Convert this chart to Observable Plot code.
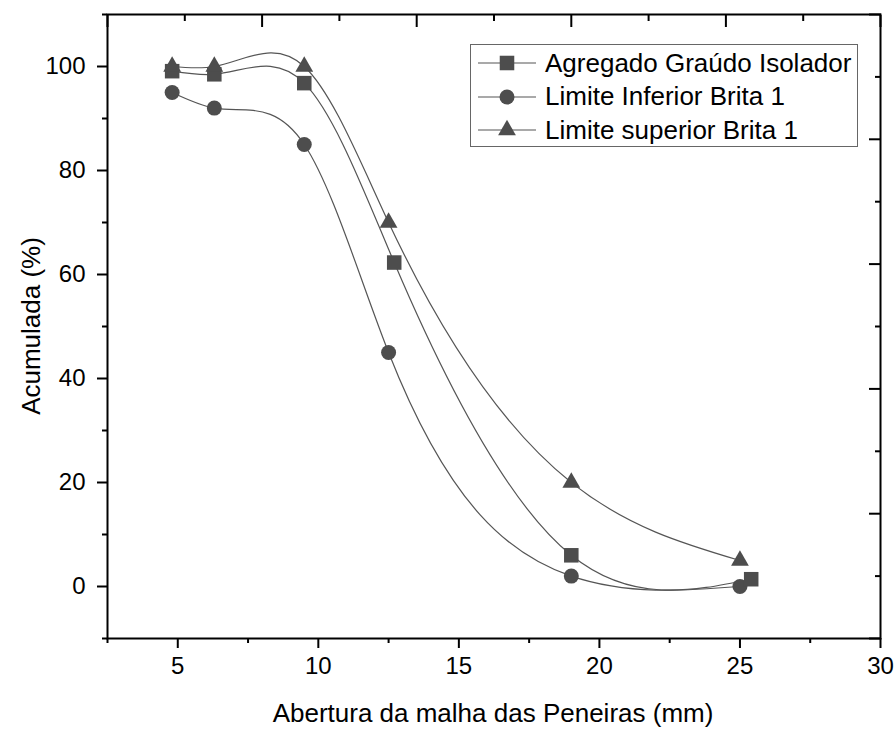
<!DOCTYPE html>
<html>
<head>
<meta charset="utf-8">
<script src="https://cdn.jsdelivr.net/npm/d3@7"></script>
<script src="https://cdn.jsdelivr.net/npm/@observablehq/plot@0.6"></script>
<style>
  html, body { margin: 0; padding: 0; background: #fff; }
  #wrap { position: relative; width: 896px; height: 729px; font-family: "Liberation Sans", Arial, sans-serif; }
  #legend { position: absolute; left: 470px; top: 44px; width: 388px; height: 103px; border: 1px solid #666; background: #fff; box-sizing: border-box; }
  .row { position: absolute; left: 0; height: 34px; display: flex; align-items: center; }
  .row svg { display: block; }
  .row span { font-size: 26px; color: #000; margin-left: 4px; white-space: nowrap; }
  .title { position: absolute; font-size: 26px; color: #000; white-space: nowrap; line-height: 1; }
</style>
</head>
<body>
<div id="wrap"></div>
<script>
// ---- data ----
const seriesNames = ["Agregado Graúdo Isolador", "Limite Inferior Brita 1", "Limite superior Brita 1"];
const aberturaAgregado = [4.8, 6.3, 9.5, 12.7, 19, 25.4];
const agregado = [99.1, 98.5, 96.8, 62.3, 6.0, 1.4];
const aberturaLimites = [4.8, 6.3, 9.5, 12.5, 19, 25];
const limiteInferior = [95, 92, 85, 45, 2, 0];
const limiteSuperior = [100, 100, 100, 70, 20, 5];
const xMajor = [5, 10, 15, 20, 25, 30];
const xMinor = [2.5, 7.5, 12.5, 17.5, 22.5, 27.5];
const yMajor = [0, 20, 40, 60, 80, 100];
const yMinor = [-10, 10, 30, 50, 70, 90, 110];
const xDomain = [2.5, 30];
const yDomain = [-10, 110];
const xTitle = "Abertura da malha das Peneiras (mm)";
const yTitle = "Acumulada (%)";

const toRows = (xs, ys) => xs.map((x, i) => ({x, y: ys[i]}));
const dAgregado = toRows(aberturaAgregado, agregado);
const dInferior = toRows(aberturaLimites, limiteInferior);
const dSuperior = toRows(aberturaLimites, limiteSuperior);

// secondary (unlabelled) axes: 5 equal intervals
const split = (dom, n) => d3.range(n + 1).map(i => dom[0] + (dom[1] - dom[0]) * i / n);
const mids = (arr) => arr.slice(1).map((v, i) => (v + arr[i]) / 2);
const rightMajor = split(yDomain, 5), rightMinor = mids(rightMajor);
const topMajor = split(xDomain, 5), topMinor = mids(topMajor);

// cubic spline y(x) curve (like Origin "Spline" connect)
function curveSplineYX(context) {
  let xs, ys;
  return {
    areaStart() {}, areaEnd() {},
    lineStart() { xs = []; ys = []; },
    point(x, y) { xs.push(+x); ys.push(+y); },
    lineEnd() {
      const n = xs.length - 1;
      if (n < 1) return;
      const h = d3.range(n).map(i => xs[i + 1] - xs[i]);
      const M = new Array(n + 1).fill(0);
      if (n > 1) {
        const a = [], b = [], c = [], r = [];
        for (let i = 1; i < n; i++) {
          a.push(h[i - 1]); b.push(2 * (h[i - 1] + h[i])); c.push(h[i]);
          r.push(6 * ((ys[i + 1] - ys[i]) / h[i] - (ys[i] - ys[i - 1]) / h[i - 1]));
        }
        const m = b.length;
        for (let i = 1; i < m; i++) { const w = a[i] / b[i - 1]; b[i] -= w * c[i - 1]; r[i] -= w * r[i - 1]; }
        const sol = new Array(m);
        sol[m - 1] = r[m - 1] / b[m - 1];
        for (let i = m - 2; i >= 0; i--) sol[i] = (r[i] - c[i] * sol[i + 1]) / b[i];
        for (let i = 0; i < m; i++) M[i + 1] = sol[i];
      }
      const der = d3.range(n + 1).map(i => i < n
        ? (ys[i + 1] - ys[i]) / h[i] - h[i] * (2 * M[i] + M[i + 1]) / 6
        : (ys[n] - ys[n - 1]) / h[n - 1] + h[n - 1] * (M[n - 1] + 2 * M[n]) / 6);
      context.moveTo(xs[0], ys[0]);
      for (let i = 0; i < n; i++) {
        const t = h[i] / 3;
        context.bezierCurveTo(xs[i] + t, ys[i] + der[i] * t, xs[i + 1] - t, ys[i + 1] - der[i + 1] * t, xs[i + 1], ys[i + 1]);
      }
    }
  };
}

const ink = "#4d4d4d";
const lineStyle = {x: "x", y: "y", curve: curveSplineYX, stroke: "#555", strokeWidth: 1.2};

const chart = Plot.plot({
  width: 896, height: 729,
  marginLeft: 107, marginRight: 16, marginTop: 14, marginBottom: 91,
  x: {domain: xDomain},
  y: {domain: yDomain},
  style: {fontFamily: "'Liberation Sans', Arial, sans-serif", fontSize: "24px", color: "#000", background: "#fff", overflow: "visible"},
  marks: [
    Plot.lineY(dInferior, lineStyle),
    Plot.lineY(dAgregado, lineStyle),
    Plot.lineY(dSuperior, lineStyle),
    Plot.dot(dInferior, {x: "x", y: "y", symbol: "circle", r: 7.5, fill: ink, stroke: "none"}),
    Plot.dot(dAgregado, {x: "x", y: "y", symbol: "square", r: 8.2, fill: ink, stroke: "none"}),
    Plot.dot(dSuperior, {x: "x", y: "y", symbol: "triangle", r: 6.6, fill: ink, stroke: "none"}),
    // bottom axis
    Plot.axisX({ticks: xMajor, tickSize: 10, tickPadding: 8, strokeWidth: 2, label: null, fontSize: 24, tickFormat: d => String(d)}),
    Plot.axisX({ticks: xMinor, tickSize: 5, strokeWidth: 2, label: null, tickFormat: () => ""}),
    // left axis
    Plot.axisY({ticks: yMajor, tickSize: 10, tickPadding: 12, strokeWidth: 2, label: null, fontSize: 24, tickFormat: d => String(d)}),
    Plot.axisY({ticks: yMinor, tickSize: 5, strokeWidth: 2, label: null, tickFormat: () => ""}),
    // right axis (inward ticks, no labels)
    Plot.axisY({anchor: "right", ticks: rightMajor, tickSize: -12, strokeWidth: 2, label: null, tickFormat: () => ""}),
    Plot.axisY({anchor: "right", ticks: rightMinor, tickSize: -6, strokeWidth: 2, label: null, tickFormat: () => ""}),
    // top axis (inward ticks, no labels)
    Plot.axisX({anchor: "top", ticks: topMajor, tickSize: -12, strokeWidth: 2, label: null, tickFormat: () => ""}),
    Plot.axisX({anchor: "top", ticks: topMinor, tickSize: -6, strokeWidth: 2, label: null, tickFormat: () => ""}),
    Plot.frame({stroke: "#000", strokeWidth: 2})
  ]
});
const wrap = document.getElementById("wrap");
wrap.appendChild(chart);

// axis titles
const xt = document.createElement("div");
xt.className = "title";
xt.textContent = xTitle;
xt.style.left = "493px"; xt.style.top = "713px";
xt.style.transform = "translate(-50%, -50%)";
wrap.appendChild(xt);
const yt = document.createElement("div");
yt.className = "title";
yt.textContent = yTitle;
yt.style.left = "31px"; yt.style.top = "326px";
yt.style.transform = "translate(-50%, -50%) rotate(-90deg)";
wrap.appendChild(yt);

// legend
const legend = document.createElement("div");
legend.id = "legend";
const symbols = ["square", "circle", "triangle"];
const sizes = {square: 8.2, circle: 7.5, triangle: 6.6};
const symbolMap = {square: d3.symbolSquare, circle: d3.symbolCircle, triangle: d3.symbolTriangle};
seriesNames.forEach((name, i) => {
  const row = document.createElement("div");
  row.className = "row";
  row.style.top = (1 + i * 33.5) + "px";
  const s = symbols[i];
  const r = sizes[s];
  const path = d3.symbol(symbolMap[s], Math.PI * r * r)();
  row.innerHTML = `<svg width="70" height="34"><line x1="7" x2="65" y1="17" y2="17" stroke="#555" stroke-width="1.2"/><path d="${path}" transform="translate(36,17)" fill="${ink}"/></svg><span>${name}</span>`;
  legend.appendChild(row);
});
wrap.appendChild(legend);
</script>
</body>
</html>
